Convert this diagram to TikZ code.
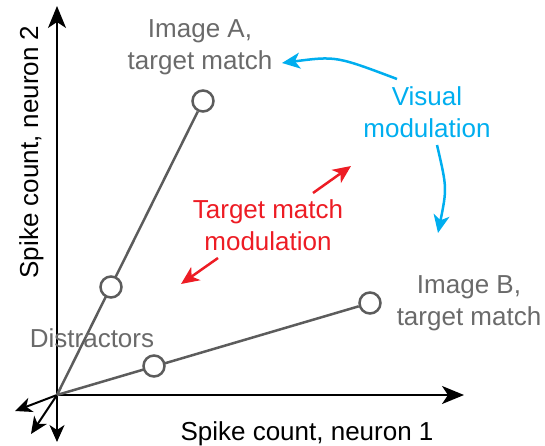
\documentclass[tikz,border=0pt]{standalone}
\usepackage{fontspec}
\setmainfont{Liberation Sans}
\usetikzlibrary{arrows.meta,calc}
\definecolor{txtgray}{HTML}{6A6A6A}
\definecolor{linegray}{HTML}{5C5C5C}
\definecolor{vis}{HTML}{00AEEF}
\definecolor{tm}{HTML}{ED1C24}

\begin{document}
\begin{tikzpicture}[x=1pt,y=-1pt,
      lbl/.style={font=\fontsize{26}{32}\selectfont,align=center,inner sep=0pt},
      glbl/.style={lbl,text=txtgray},
      axis/.style={line width=2pt,-{Stealth[length=22pt,width=18pt,inset=6pt]}},
      dir/.style={line width=2pt,-{Stealth[length=17pt,width=15pt,inset=5pt]}},
      resp/.style={line width=2.5pt,linegray},
      dot/.style={circle,draw=linegray,line width=2.5pt,fill=white,minimum size=21pt,inner sep=0pt},
      modarr/.style={line width=2.5pt,-{Stealth[length=18pt,width=16pt,inset=5pt]}}]

    \useasboundingbox (0,0) rectangle (545,446);

    % axes
    \coordinate (o) at (57,395);
    \coordinate (ytip) at (57,6);
    \coordinate (xtip) at (464,395);
    \coordinate (d1) at (15,411);
    \coordinate (d2) at (31,434);
    \coordinate (d3) at (57,442);
    \draw[axis] (o) -- (ytip);
    \draw[axis] (o) -- (xtip);
    \foreach \d in {d1,d2,d3}
      \draw[dir] (o) -- (\d);

    % response vectors
    \node[dot] (cA) at (203,101) {};
    \node[dot] (cB) at (370,303) {};
    \draw[resp] (o) -- (cA);
    \draw[resp] (o) -- (cB);
    \node[dot] (dA) at (111,287) {};
    \node[dot] (dB) at (154,366) {};

    % labels
    \node[lbl,anchor=base] (xlabel) at (307,440) {Spike count, neuron 1};
    \node[lbl,anchor=base,rotate=90] (ylabel) at (38,152) {Spike count, neuron 2};
    \node[glbl,anchor=base] (imgA) at (200,70) {Image A,\\target match};
    \node[glbl,anchor=base] (imgB) at (469,325) {Image B,\\target match};
    \node[glbl,anchor=base] (distr) at (92,347) {Distractors};
    \node[lbl,anchor=base,text=vis] (visual) at (427,138) {Visual\\modulation};
    \node[lbl,anchor=base,text=tm] (target) at (268,250) {Target match\\modulation};

    % visual modulation
    \coordinate (v1) at (397,79);
    \coordinate (v1e) at (282,63);
    \coordinate (v2) at (437,145);
    \coordinate (v2e) at (438,233);
    \draw[modarr,vis] (v1) .. controls (336,56) .. (v1e);
    \draw[modarr,vis] (v2) .. controls (447,188) .. (v2e);

    % target match modulation
    \coordinate (t1) at (313,193);
    \coordinate (t1e) at (351,166);
    \coordinate (t2) at (218,258);
    \coordinate (t2e) at (181,284);
    \draw[modarr,tm] (t1) -- (t1e);
    \draw[modarr,tm] (t2) -- (t2e);
  \end{tikzpicture}
\end{document}
